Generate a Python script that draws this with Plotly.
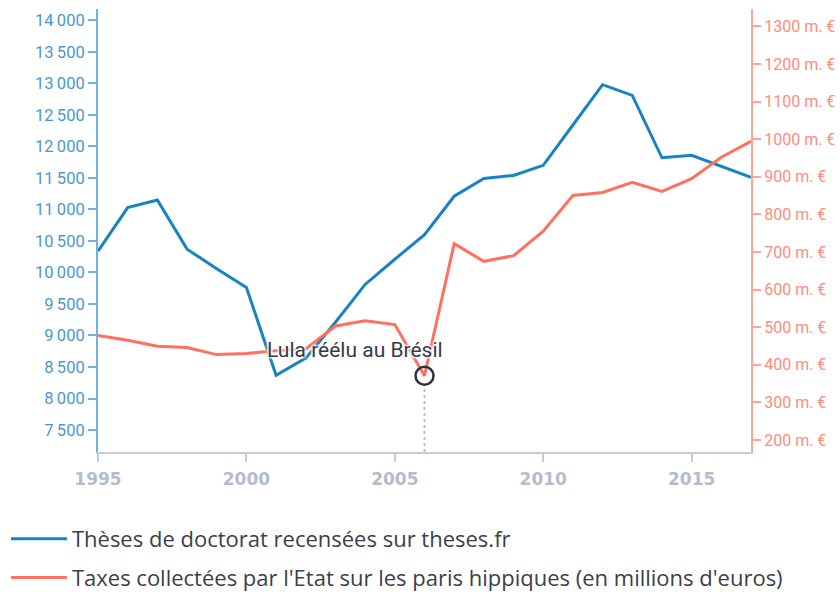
import plotly.graph_objects as go

years = list(range(1995, 2018))
theses = [10340, 11030, 11150, 10370, 10060, 9760, 8370, 8640, 9210, 9810,
          10210, 10600, 11210, 11490, 11540, 11700, 12340, 12980, 12810,
          11820, 11860, 11690, 11510]
taxes = [478, 465, 449, 446, 427, 430, 437, 442, 503, 517,
         507, 371, 722, 675, 690, 755, 850, 858, 885, 861,
         895, 952, 994]

left_ticks = [7500, 8000, 8500, 9000, 9500, 10000, 10500, 11000, 11500,
              12000, 12500, 13000, 13500, 14000]
right_ticks = [200, 300, 400, 500, 600, 700, 800, 900, 1000, 1100, 1200, 1300]
x_ticks = [1995, 2000, 2005, 2010, 2015]

event_year = 2006
event_label = "Lula réélu au Brésil"

BLUE = "#1783c2"
RED = "#ff715e"

def fmt_thousands(v):
    return f"{v:,}".replace(",", "\u2009")

fig = go.Figure()
fig.add_trace(go.Scatter(
    x=years, y=theses, mode="lines", name="Thèses de doctorat recensées sur theses.fr",
    line=dict(color=BLUE, width=3), legendgroup="a", yaxis="y"))
fig.add_trace(go.Scatter(
    x=years, y=taxes, mode="lines",
    name="Taxes collectées par l'Etat sur les paris hippiques (en millions d'euros)",
    line=dict(color=RED, width=3), legendgroup="b", yaxis="y2"))

ev_val = taxes[years.index(event_year)]
# dotted guide from marker to axis
fig.add_trace(go.Scatter(
    x=[event_year, event_year], y=[168, ev_val - 24], mode="lines", yaxis="y2",
    line=dict(color="#b9bfcc", width=2, dash="dot"), showlegend=False, hoverinfo="skip"))
fig.add_trace(go.Scatter(
    x=[event_year], y=[ev_val], mode="markers", yaxis="y2",
    marker=dict(symbol="circle-open", size=18, color="#2c323d", line=dict(width=2.5)),
    showlegend=False, hoverinfo="skip"))

fig.add_annotation(
    x=event_year, y=ev_val, xref="x", yref="y2", text=event_label, showarrow=False,
    xanchor="right", yanchor="middle", xshift=20, yshift=26,
    font=dict(family="Roboto", size=21, color="#353b48",
              shadow="1px 1px 2px white, -1px -1px 2px white, 1px -1px 2px white, -1px 1px 2px white"))

fig.update_layout(
    width=840, height=592,
    margin=dict(l=98, r=89, t=9, b=140, autoexpand=False),
    paper_bgcolor="white", plot_bgcolor="white",
    font=dict(family="Roboto"),
    showlegend=True,
    legend=dict(
        x=-0.141, y=-0.149, xanchor="left", yanchor="top",
        traceorder="grouped", tracegroupgap=7, itemwidth=56,
        font=dict(family="Open Sans", size=22, color="#3a3f4a"),
        bgcolor="rgba(0,0,0,0)"),
    xaxis=dict(
        range=[1995, 2017], tickvals=x_ticks, ticktext=[str(t) for t in x_ticks],
        showgrid=False, zeroline=False, showline=True, linecolor="#c5cbd8", linewidth=1.5,
        ticks="outside", ticklen=8, tickwidth=1.5, tickcolor="#c5cbd8", automargin=False,
        ticklabelstandoff=3,
        tickfont=dict(family="DejaVu Sans", size=17, color="#b4bccb", weight="bold")),
    yaxis=dict(
        range=[7151, 14181], tickvals=left_ticks, ticktext=[fmt_thousands(v) for v in left_ticks],
        showgrid=False, zeroline=False, showline=True, linecolor="#6fb4df", linewidth=2,
        ticks="outside", ticklen=8, tickwidth=1.5, tickcolor="#6fb4df", automargin=False,
        tickfont=dict(family="Roboto", size=16.5, color="#4a97cf")),
    yaxis2=dict(
        overlaying="y", side="right",
        range=[168, 1346], tickvals=right_ticks, ticktext=[f"{v} m. €" for v in right_ticks],
        showgrid=False, zeroline=False, showline=True, linecolor="#ffa395", linewidth=2,
        ticks="outside", ticklen=8, tickwidth=1.5, tickcolor="#ffa395", automargin=False,
        tickfont=dict(family="Roboto", size=16, color="#ff8b7a")),
)

fig.write_html(
    "out.html",
    config={"displayModeBar": False},
    post_script="document.body.style.margin='0';document.body.style.overflow='hidden';")
